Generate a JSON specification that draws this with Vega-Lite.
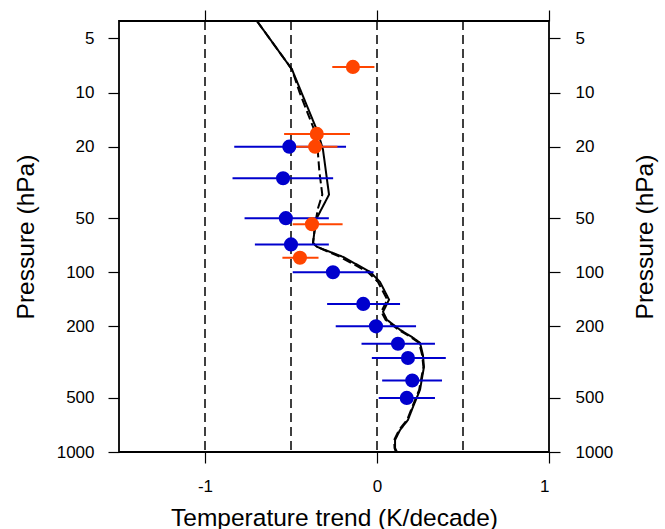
{
  "$schema": "https://vega.github.io/schema/vega-lite/v6.json",
  "width": 430,
  "height": 431,
  "autosize": {"type": "none"},
  "padding": {"left": 119, "top": 21, "right": 116, "bottom": 77},
  "background": "white",
  "config": {
    "font": "Liberation Sans",
    "view": {"stroke": "black", "strokeWidth": 1.8},
    "axis": {"grid": false, "domain": false, "tickColor": "black", "tickWidth": 1.2, "tickSize": 11, "labelColor": "black", "titleColor": "black", "labelFont": "Liberation Sans", "titleFont": "Liberation Sans", "labelFontSize": 17, "titleFontSize": 24.5, "titleFontWeight": "normal"}
  },
  "datasets": {
    "grid": [{"x": -1}, {"x": -0.5}, {"x": 0}, {"x": 0.5}],
    "profile": [
      {"run": "a", "p": 4, "t": -0.698}, {"run": "a", "p": 7.45, "t": -0.494}, {"run": "a", "p": 10, "t": -0.439},
      {"run": "a", "p": 15.7, "t": -0.355}, {"run": "a", "p": 18.3, "t": -0.331}, {"run": "a", "p": 20.8, "t": -0.314},
      {"run": "a", "p": 27.5, "t": -0.297}, {"run": "a", "p": 37.0, "t": -0.279}, {"run": "a", "p": 51, "t": -0.355},
      {"run": "a", "p": 68.6, "t": -0.372}, {"run": "a", "p": 72.2, "t": -0.349}, {"run": "a", "p": 82.1, "t": -0.198},
      {"run": "a", "p": 99.4, "t": -0.041}, {"run": "a", "p": 113, "t": 0.017}, {"run": "a", "p": 142, "t": 0.07},
      {"run": "a", "p": 166, "t": 0.035}, {"run": "a", "p": 184, "t": 0.058}, {"run": "a", "p": 209, "t": 0.134},
      {"run": "a", "p": 229, "t": 0.203}, {"run": "a", "p": 247, "t": 0.25}, {"run": "a", "p": 288, "t": 0.267},
      {"run": "a", "p": 336, "t": 0.273}, {"run": "a", "p": 451, "t": 0.25}, {"run": "a", "p": 562, "t": 0.209},
      {"run": "a", "p": 663, "t": 0.18}, {"run": "a", "p": 754, "t": 0.134}, {"run": "a", "p": 857, "t": 0.105},
      {"run": "a", "p": 950, "t": 0.105}, {"run": "a", "p": 1000, "t": 0.116},
      {"run": "b", "p": 4, "t": -0.698}, {"run": "b", "p": 7.45, "t": -0.494}, {"run": "b", "p": 10, "t": -0.45},
      {"run": "b", "p": 15.7, "t": -0.37}, {"run": "b", "p": 18.3, "t": -0.355}, {"run": "b", "p": 20.8, "t": -0.345},
      {"run": "b", "p": 27.5, "t": -0.335}, {"run": "b", "p": 37.0, "t": -0.318}, {"run": "b", "p": 44, "t": -0.343},
      {"run": "b", "p": 51, "t": -0.355}, {"run": "b", "p": 68.6, "t": -0.372}, {"run": "b", "p": 72.2, "t": -0.35},
      {"run": "b", "p": 82.1, "t": -0.215}, {"run": "b", "p": 99.4, "t": -0.055}, {"run": "b", "p": 113, "t": 0.005},
      {"run": "b", "p": 142, "t": 0.06}, {"run": "b", "p": 166, "t": 0.025}, {"run": "b", "p": 184, "t": 0.05},
      {"run": "b", "p": 209, "t": 0.125}, {"run": "b", "p": 229, "t": 0.195}, {"run": "b", "p": 247, "t": 0.245},
      {"run": "b", "p": 288, "t": 0.262}, {"run": "b", "p": 336, "t": 0.27}, {"run": "b", "p": 451, "t": 0.245},
      {"run": "b", "p": 562, "t": 0.205}, {"run": "b", "p": 663, "t": 0.175}, {"run": "b", "p": 754, "t": 0.128},
      {"run": "b", "p": 857, "t": 0.1}, {"run": "b", "p": 950, "t": 0.102}, {"run": "b", "p": 1000, "t": 0.11}
    ],
    "blue": [
      {"p": 20, "t": -0.51, "lo": -0.83, "hi": -0.18},
      {"p": 30, "t": -0.546, "lo": -0.84, "hi": -0.255},
      {"p": 50, "t": -0.53, "lo": -0.77, "hi": -0.28},
      {"p": 70, "t": -0.5, "lo": -0.71, "hi": -0.28},
      {"p": 100, "t": -0.256, "lo": -0.49, "hi": -0.02},
      {"p": 150, "t": -0.08, "lo": -0.29, "hi": 0.134},
      {"p": 200, "t": -0.006, "lo": -0.24, "hi": 0.227},
      {"p": 250, "t": 0.122, "lo": -0.09, "hi": 0.337},
      {"p": 300, "t": 0.18, "lo": -0.03, "hi": 0.4},
      {"p": 400, "t": 0.205, "lo": 0.03, "hi": 0.378},
      {"p": 500, "t": 0.173, "lo": 0.01, "hi": 0.337}
    ],
    "orange": [
      {"p": 7.2, "t": -0.14, "lo": -0.26, "hi": -0.015},
      {"p": 17, "t": -0.35, "lo": -0.54, "hi": -0.157},
      {"p": 20, "t": -0.36, "lo": -0.47, "hi": -0.23},
      {"p": 54, "t": -0.378, "lo": -0.49, "hi": -0.2},
      {"p": 83, "t": -0.448, "lo": -0.55, "hi": -0.34}
    ]
  },
  "resolve": {"axis": {"x": "independent", "y": "independent"}},
  "layer": [
    {
      "data": {"name": "grid"},
      "mark": {"type": "rule", "color": "black", "strokeWidth": 1.5, "strokeDash": [9, 5]},
      "encoding": {
        "x": {"field": "x", "type": "quantitative", "scale": {"domain": [-1.5, 1], "nice": false, "zero": false},
          "axis": {"orient": "bottom", "values": [-1, 0, 1], "labelExpr": "'' + datum.value", "labelPadding": 15, "title": "Temperature trend (K/decade)", "titleX": 215, "titleY": 66, "titleBaseline": "middle"}}
      }
    },
    {
      "data": {"name": "profile"},
      "mark": {"type": "line", "color": "black", "strokeWidth": 2, "clip": true},
      "encoding": {
        "x": {"field": "t", "type": "quantitative", "scale": {"domain": [-1.5, 1], "nice": false, "zero": false},
          "axis": {"orient": "top", "values": [-1, 0, 1], "labels": false, "title": null}},
        "y": {"field": "p", "type": "quantitative", "scale": {"type": "log", "domain": [4, 1000], "reverse": true, "nice": false},
          "axis": {"orient": "left", "values": [5, 10, 20, 50, 100, 200, 500, 1000], "format": "d", "labelPadding": 14, "title": "Pressure (hPa)", "titleAngle": -90, "titleX": -93, "titleY": 215.5, "titleBaseline": "middle", "titleAlign": "center"}},
        "detail": {"field": "run"},
        "strokeDash": {"field": "run", "type": "nominal", "scale": {"domain": ["a", "b"], "range": [[1, 0], [9, 4]]}, "legend": null},
        "order": {"field": "p", "type": "quantitative"}
      }
    },
    {
      "data": {"name": "blue"},
      "mark": {"type": "rule", "color": "#0000CD", "strokeWidth": 2},
      "encoding": {
        "x": {"field": "lo", "type": "quantitative", "scale": {"domain": [-1.5, 1], "nice": false, "zero": false}, "axis": null},
        "x2": {"field": "hi"},
        "y": {"field": "p", "type": "quantitative", "scale": {"type": "log", "domain": [4, 1000], "reverse": true, "nice": false},
          "axis": {"orient": "right", "values": [5, 10, 20, 50, 100, 200, 500, 1000], "format": "d", "labelPadding": 15, "title": "Pressure (hPa)", "titleAngle": -90, "titleX": 96, "titleY": 215.5, "titleBaseline": "middle", "titleAlign": "center"}}
      }
    },
    {
      "data": {"name": "blue"},
      "mark": {"type": "circle", "color": "#0000CD", "opacity": 1, "size": 200},
      "encoding": {
        "x": {"field": "t", "type": "quantitative", "axis": null},
        "y": {"field": "p", "type": "quantitative", "axis": null}
      }
    },
    {
      "data": {"name": "orange"},
      "mark": {"type": "rule", "color": "#FF4500", "strokeWidth": 2},
      "encoding": {
        "x": {"field": "lo", "type": "quantitative", "axis": null},
        "x2": {"field": "hi"},
        "y": {"field": "p", "type": "quantitative", "axis": null}
      }
    },
    {
      "data": {"name": "orange"},
      "mark": {"type": "circle", "color": "#FF4500", "opacity": 1, "size": 200},
      "encoding": {
        "x": {"field": "t", "type": "quantitative", "axis": null},
        "y": {"field": "p", "type": "quantitative", "axis": null}
      }
    }
  ]
}
